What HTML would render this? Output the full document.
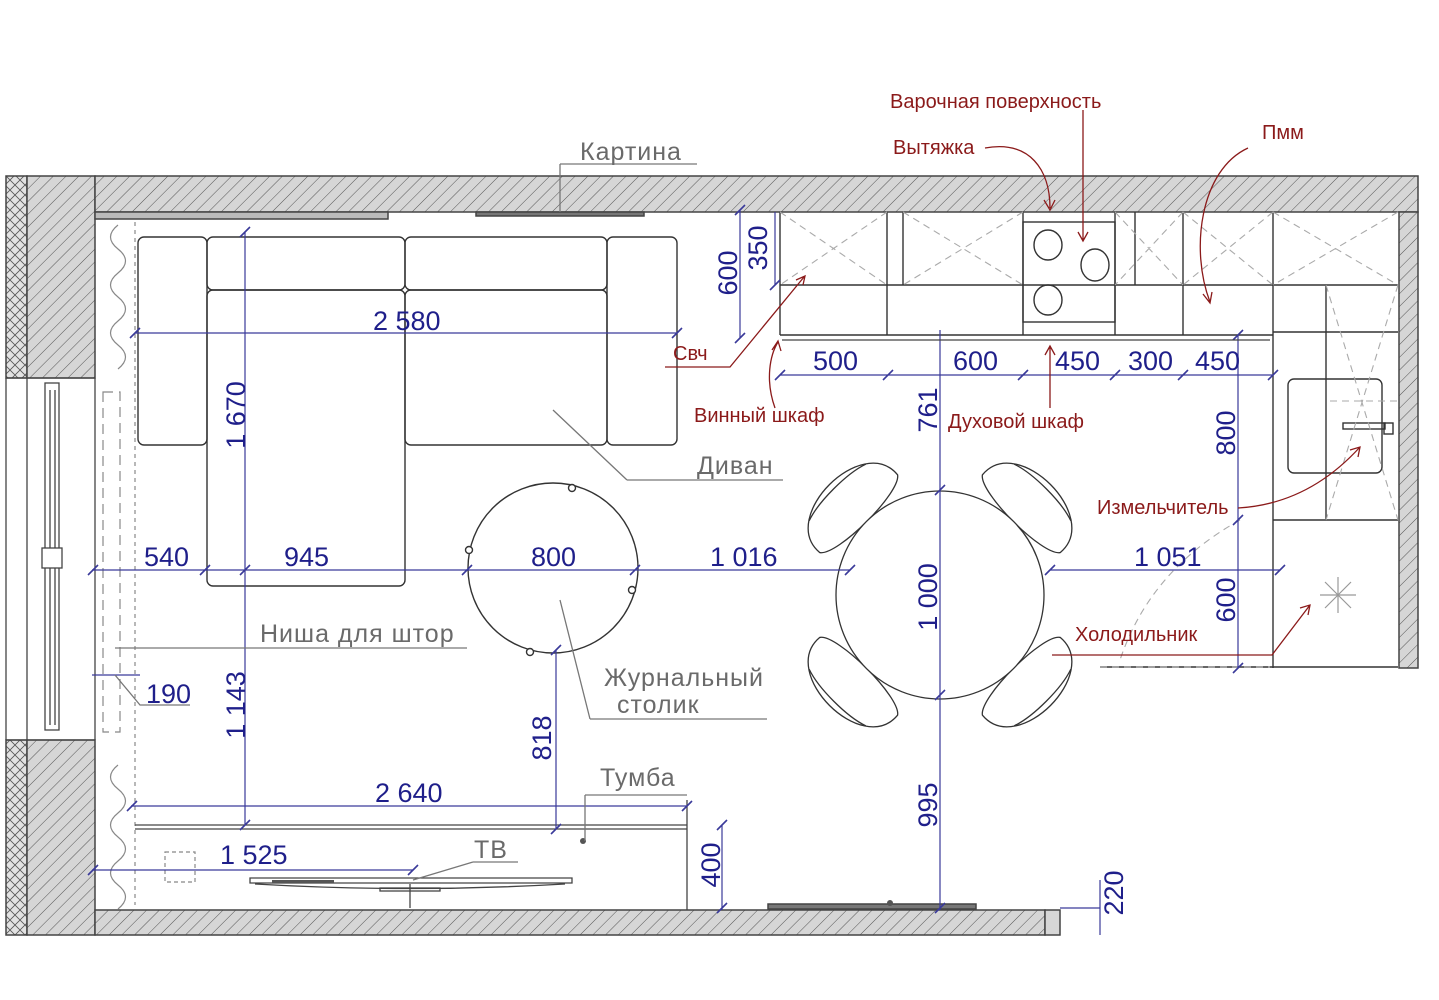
<!DOCTYPE html>
<html><head><meta charset="utf-8"><style>
html,body{margin:0;padding:0;background:#fff;width:1439px;height:1000px;overflow:hidden}
svg{display:block}
.d{font-family:"Liberation Sans Narrow","Liberation Sans",sans-serif;font-size:27px;fill:#1f1f8a}
.g{font-family:"Liberation Sans Narrow","Liberation Sans",sans-serif;font-size:25px;fill:#6a6a6a;letter-spacing:1px}
.r{font-family:"Liberation Sans Narrow","Liberation Sans",sans-serif;font-size:20px;fill:#8b1a1a}
</style></head><body>
<svg width="1439" height="1000" viewBox="0 0 1439 1000" xmlns="http://www.w3.org/2000/svg">
<defs>
<pattern id="h" width="9" height="9" patternUnits="userSpaceOnUse" patternTransform="rotate(45)">
<rect width="9" height="9" fill="#d6d6d6"/><line x1="0" y1="0" x2="0" y2="9" stroke="#555" stroke-width="1"/></pattern>
<pattern id="x" width="10" height="10" patternUnits="userSpaceOnUse">
<rect width="10" height="10" fill="#e2e2e2"/><path d="M0 0L10 10M10 0L0 10" stroke="#555" stroke-width="0.8"/></pattern>
</defs>
<g stroke="#444" stroke-width="1.5">
<!-- walls -->
<rect x="6" y="176" width="21" height="202" fill="url(#x)"/>
<rect x="27" y="176" width="68" height="202" fill="url(#h)"/>
<rect x="95" y="176" width="1323" height="36" fill="url(#h)"/>
<rect x="1399" y="212" width="19" height="456" fill="url(#h)"/>
<rect x="6" y="740" width="21" height="195" fill="url(#x)"/>
<rect x="27" y="740" width="68" height="195" fill="url(#h)"/>
<rect x="95" y="910" width="950" height="25" fill="url(#h)"/>
<rect x="1045" y="910" width="15" height="25" fill="#d6d6d6"/>
<rect x="95" y="212" width="293" height="7" fill="#bbb"/>
<rect x="476" y="212" width="168" height="4" fill="#777"/>
<rect x="768" y="904" width="208" height="5" fill="#777"/>
</g>
<!-- window -->
<g stroke="#444" stroke-width="1.3" fill="none">
<line x1="6" y1="378" x2="6" y2="740"/><line x1="27" y1="378" x2="27" y2="740"/>
<line x1="95" y1="378" x2="95" y2="740"/><line x1="6" y1="378" x2="95" y2="378"/><line x1="6" y1="740" x2="95" y2="740"/>
<rect x="45" y="383" width="14" height="347"/><line x1="50" y1="390" x2="50" y2="725"/><line x1="55" y1="390" x2="55" y2="725"/>
<rect x="42" y="548" width="20" height="20" fill="#fff"/>
</g>
<!-- curtains -->
<g stroke="#888" stroke-width="1.2" fill="none">
<path d="M118 225 q-15 12 0 24 q15 12 0 24 q-15 12 0 24 q15 12 0 24 q-15 12 0 24 q15 12 0 24"/>
<path d="M118 765 q-15 12 0 24 q15 12 0 24 q-15 12 0 24 q15 12 0 24 q-15 12 0 24 q15 12 0 24"/>
<line x1="135" y1="222" x2="135" y2="905" stroke-dasharray="4 4"/>
<rect x="103" y="392" width="17" height="340" stroke-dasharray="10 6"/>
<rect x="165" y="852" width="30" height="30" stroke-dasharray="4 3"/>
</g>
<!-- sofa -->
<g stroke="#333" stroke-width="1.4" fill="none">
<rect x="138" y="237" width="69" height="208" rx="6"/>
<rect x="607" y="237" width="70" height="208" rx="6"/>
<rect x="207" y="237" width="198" height="53" rx="6"/>
<rect x="405" y="237" width="202" height="53" rx="6"/>
<rect x="207" y="290" width="198" height="296" rx="6"/>
<rect x="405" y="290" width="202" height="155" rx="6"/>
</g>
<!-- coffee table -->
<g stroke="#333" stroke-width="1.4" fill="#fff">
<circle cx="553" cy="568" r="85"/>
<circle cx="572" cy="488" r="3.5"/><circle cx="469" cy="550" r="3.5"/><circle cx="632" cy="590" r="3.5"/><circle cx="530" cy="652" r="3.5"/>
</g>
<!-- chairs -->
<g stroke="#333" stroke-width="1.3" fill="#fff">
<g transform="translate(940 595) rotate(-45)">
<path d="M-55 -95 C-60 -150 60 -150 55 -95 C45 -80 -45 -80 -55 -95Z" transform="translate(0 -20)"/><path d="M-40 -145 C-20 -152 20 -152 40 -145" fill="none"/></g>
<g transform="translate(940 595) rotate(45)">
<path d="M-55 -95 C-60 -150 60 -150 55 -95 C45 -80 -45 -80 -55 -95Z" transform="translate(0 -20)"/><path d="M-40 -145 C-20 -152 20 -152 40 -145" fill="none"/></g>
<g transform="translate(940 595) rotate(-135)">
<path d="M-55 -95 C-60 -150 60 -150 55 -95 C45 -80 -45 -80 -55 -95Z" transform="translate(0 -20)"/><path d="M-40 -145 C-20 -152 20 -152 40 -145" fill="none"/></g>
<g transform="translate(940 595) rotate(135)">
<path d="M-55 -95 C-60 -150 60 -150 55 -95 C45 -80 -45 -80 -55 -95Z" transform="translate(0 -20)"/><path d="M-40 -145 C-20 -152 20 -152 40 -145" fill="none"/></g>
<circle cx="940" cy="595" r="104"/>
</g>
<!-- kitchen -->
<g stroke="#333" stroke-width="1.4" fill="none">
<line x1="780" y1="212" x2="780" y2="335"/>
<line x1="780" y1="285" x2="1398" y2="285"/>
<line x1="780" y1="335" x2="1273" y2="335"/>
<line x1="887" y1="212" x2="887" y2="335"/>
<line x1="903" y1="212" x2="903" y2="285"/>
<rect x="1023" y="222" width="92" height="100"/>
<line x1="1023" y1="212" x2="1023" y2="335"/>
<line x1="1115" y1="212" x2="1115" y2="335"/>
<line x1="1135" y1="212" x2="1135" y2="285"/>
<line x1="1183" y1="212" x2="1183" y2="335"/>
<line x1="1273" y1="212" x2="1273" y2="668"/>
<line x1="1326" y1="285" x2="1326" y2="520"/>
<line x1="1273" y1="332" x2="1398" y2="332"/>
<line x1="1273" y1="520" x2="1398" y2="520"/>
<line x1="1100" y1="667" x2="1398" y2="667"/>
<rect x="1288" y="379" width="94" height="94" rx="6"/>
<rect x="1343" y="423" width="42" height="6"/><rect x="1384" y="423" width="9" height="11"/>
<ellipse cx="1048" cy="245" rx="14" ry="15"/><ellipse cx="1095" cy="265" rx="14" ry="16"/><ellipse cx="1048" cy="300" rx="14" ry="15"/>
</g>
<g stroke="#aaa" stroke-width="1.1" fill="none" stroke-dasharray="7 5">
<path d="M780 212L887 285M887 212L780 285M903 212L1023 285M1023 212L903 285M1115 212L1183 285M1183 212L1115 285M1183 212L1273 285M1273 212L1183 285M1273 212L1398 285M1398 212L1273 285"/>
<path d="M1326 285L1398 520M1398 285L1326 520M1330 401L1398 401"/>
<path d="M1100 667L1270 667M1240 520 Q1150 570 1120 660"/>
</g>
<g stroke="#999" stroke-width="1.2"><path d="M1320 595h36M1338 577v36M1325 582l26 26M1351 582l-26 26"/></g>
<!-- TV & tumba -->
<g stroke="#444" stroke-width="1.3" fill="none">
<line x1="135" y1="825" x2="687" y2="825"/><line x1="135" y1="829" x2="687" y2="829"/>
<line x1="687" y1="800" x2="687" y2="910"/>
<path d="M250 878h322v5h-322z M255 884 Q410 893 565 884"/>
<line x1="410" y1="884" x2="410" y2="908"/><rect x="380" y="888" width="60" height="3"/>
</g>
<g fill="#555"><rect x="272" y="880" width="62" height="3"/><circle cx="583" cy="841" r="3"/><circle cx="890" cy="903" r="3"/></g>
<!-- dims -->
<g stroke="#3a3a9a" stroke-width="1.2" fill="none">
<line x1="135" y1="333" x2="677" y2="333"/>
<line x1="245" y1="232" x2="245" y2="825"/>
<line x1="92" y1="570" x2="850" y2="570"/>
<line x1="1050" y1="570" x2="1280" y2="570"/>
<line x1="940" y1="330" x2="940" y2="910"/>
<line x1="556" y1="650" x2="556" y2="829"/>
<line x1="131" y1="806" x2="687" y2="806"/>
<line x1="92" y1="870" x2="413" y2="870"/>
<line x1="722" y1="825" x2="722" y2="910"/>
<line x1="92" y1="675" x2="140" y2="675"/>
<line x1="740" y1="210" x2="740" y2="338"/>
<line x1="775" y1="212" x2="775" y2="285"/>
<line x1="780" y1="375" x2="1273" y2="375"/>
<line x1="1238" y1="335" x2="1238" y2="668"/>
<line x1="1060" y1="908" x2="1100" y2="908"/>
<line x1="1100" y1="880" x2="1100" y2="935"/>
<g stroke-width="1.6"><path d="M130 338l10-10M672 338l10-10M240 237l10-10M240 830l10-10M88 575l10-10M200 575l10-10M240 575l10-10M462 575l10-10M630 575l10-10M845 575l10-10M1045 575l10-10M1275 575l10-10M935 495l10-10M935 700l10-10M935 913l10-10M551 655l10-10M551 834l10-10M127 811l10-10M682 811l10-10M88 875l10-10M408 875l10-10M717 830l10-10M717 913l10-10M775 380l10-10M883 380l10-10M1018 380l10-10M1110 380l10-10M1178 380l10-10M1268 380l10-10M1233 340l10-10M1233 525l10-10M1233 673l10-10M735 215l10-10M735 343l10-10M770 290l10-10"/></g>
</g>
<line x1="782" y1="340" x2="1270" y2="340" stroke="#444" stroke-width="1.2"/>
<g class="d">
<text x="373" y="330">2 580</text>
<text x="144" y="566">540</text><text x="284" y="566">945</text><text x="531" y="566">800</text>
<text x="710" y="566">1 016</text><text x="1134" y="566">1 051</text>
<text x="375" y="802">2 640</text><text x="220" y="864">1 525</text><text x="146" y="703">190</text>
<text x="813" y="370">500</text><text x="953" y="370">600</text><text x="1055" y="370">450</text><text x="1128" y="370">300</text><text x="1195" y="370">450</text>
<text transform="translate(245 415) rotate(-90)" text-anchor="middle">1 670</text>
<text transform="translate(245 705) rotate(-90)" text-anchor="middle">1 143</text>
<text transform="translate(937 597) rotate(-90)" text-anchor="middle">1 000</text>
<text transform="translate(937 410) rotate(-90)" text-anchor="middle">761</text>
<text transform="translate(937 805) rotate(-90)" text-anchor="middle">995</text>
<text transform="translate(551 738) rotate(-90)" text-anchor="middle">818</text>
<text transform="translate(720 865) rotate(-90)" text-anchor="middle">400</text>
<text transform="translate(1123 893) rotate(-90)" text-anchor="middle">220</text>
<text transform="translate(737 273) rotate(-90)" text-anchor="middle">600</text>
<text transform="translate(767 248) rotate(-90)" text-anchor="middle">350</text>
<text transform="translate(1235 433) rotate(-90)" text-anchor="middle">800</text>
<text transform="translate(1235 600) rotate(-90)" text-anchor="middle">600</text>
</g>
<!-- gray labels -->
<g stroke="#777" stroke-width="1.3" fill="none">
<path d="M560 164h137M560 164v48M627 480h156M553 410l74 70M250 648h217M115 648h135M590 719h177M560 600l30 119M585 795h102M585 795v46M473 862h45M473 862l-60 18M115 675l25 30h50"/>
</g>
<g class="g"><text x="580" y="160">Картина</text><text x="697" y="474">Диван</text><text x="260" y="642">Ниша для штор</text>
<text x="604" y="686">Журнальный</text><text x="617" y="713">столик</text><text x="600" y="786">Тумба</text><text x="474" y="858">ТВ</text></g>
<!-- red -->
<g stroke="#8b1a1a" stroke-width="1.3" fill="none">
<path d="M985 148 C1030 140 1050 170 1050 208M1044 200l6 10 5-10"/>
<path d="M1083 110V240M1078 232l5 9 5-9"/>
<path d="M1248 148 C1200 170 1190 250 1210 302M1203 294l7 9 2-11"/>
<path d="M665 367h65l74-90M796 280l9-4-2 9"/>
<path d="M775 408 C765 380 770 355 778 342M772 350l6-9 3 10"/>
<path d="M1050 408V347M1045 355l5-9 5 9"/>
<path d="M1238 508 C1290 505 1330 480 1360 447M1350 450l10-3-2 10"/>
<path d="M1052 655h220l38-50M1300 608l10-3-2 10"/>
</g>
<g class="r"><text x="890" y="108">Варочная поверхность</text><text x="893" y="154">Вытяжка</text><text x="1262" y="139">Пмм</text>
<text x="673" y="360">Свч</text><text x="694" y="422">Винный шкаф</text><text x="948" y="428">Духовой шкаф</text>
<text x="1097" y="514">Измельчитель</text><text x="1075" y="641">Холодильник</text></g>
</svg>
</body></html>
